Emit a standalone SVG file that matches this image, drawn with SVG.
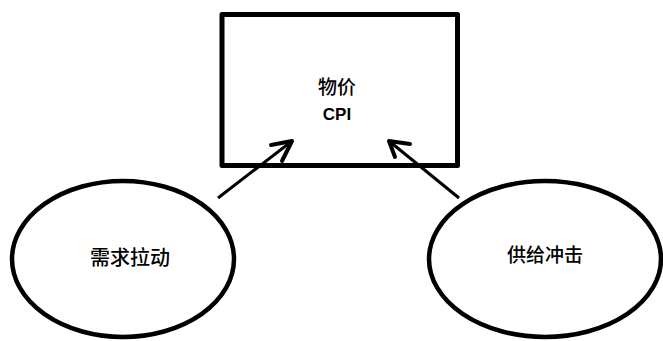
<svg xmlns="http://www.w3.org/2000/svg" width="663" height="341" viewBox="0 0 663 341">
  <style>
    .box { fill: #ffffff; stroke: #000000; stroke-width: 5; stroke-linejoin: round; }
    .oval { fill: #ffffff; stroke: #000000; stroke-width: 4.5; }
    .edge { fill: none; stroke: #000000; stroke-width: 3; }
    .head { fill: none; stroke: #000000; stroke-width: 4; stroke-linecap: round; stroke-linejoin: round; }
    .cjk { font-family: "Noto Sans CJK SC", "Liberation Sans", sans-serif; font-weight: 500; fill: #000000; text-anchor: middle; }
    .latin { font-family: "Liberation Sans", "Noto Sans", sans-serif; font-weight: bold; fill: #000000; text-anchor: middle; }
  </style>

  <g id="cpi">
    <rect class="box" x="222" y="14.5" width="235.5" height="151"/>
    <text class="cjk" x="337" y="94" font-size="19">物价</text>
    <text class="latin" x="337" y="120" font-size="17">CPI</text>
  </g>

  <g id="demand">
    <ellipse class="oval" cx="123" cy="259" rx="111" ry="78"/>
    <text class="cjk" x="130" y="265" font-size="20">需求拉动</text>
  </g>

  <g id="supply">
    <ellipse class="oval" cx="545" cy="259" rx="116" ry="78"/>
    <text class="cjk" x="545" y="262" font-size="19">供给冲击</text>
  </g>

  <g id="connectors">
    <line class="edge" x1="218" y1="198" x2="292" y2="141"/>
    <polyline class="head" points="271,145 292,141 282,161"/>
    <line class="edge" x1="459" y1="198" x2="389" y2="141"/>
    <polyline class="head" points="410,144 389,141 395,157"/>
  </g>
</svg>
